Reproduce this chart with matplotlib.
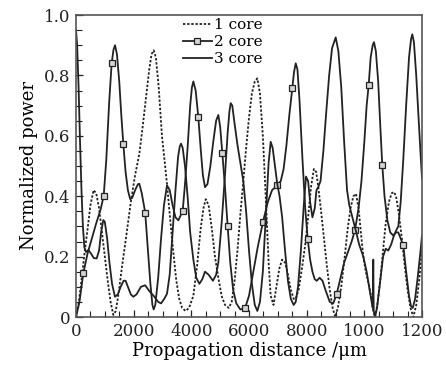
import matplotlib
matplotlib.use("Agg")
import matplotlib.pyplot as plt
from matplotlib.ticker import MultipleLocator, FixedLocator

# ---- data (approximate) ----
# 1 core (dashed)
x1 = [0, 100, 200, 300, 400, 500, 610, 700, 800, 900, 1000, 1100, 1200, 1295, 1380, 1480, 1600, 1757, 1900, 2050,
      2196, 2300, 2420, 2540, 2620, 2694, 2770, 2870, 2980, 3070, 3156, 3260, 3380, 3480, 3580, 3680, 3800, 3920,
      4070, 4200, 4320, 4420, 4500, 4600, 4700, 4820, 4936, 5050, 5167, 5300, 5400, 5500, 5600, 5700, 5803, 5900,
      6000, 6100, 6200, 6290, 6380, 6480, 6580, 6680, 6752, 6850, 6950, 7050, 7150, 7250, 7350, 7450, 7550, 7620,
      7720, 7850, 7950, 8050, 8150, 8250, 8330, 8404, 8500, 8600, 8700, 8800, 8900, 8990, 9080, 9200, 9320, 9420,
      9520, 9620, 9711, 9800, 9880, 9965, 10050, 10150, 10250, 10310, 10370, 10450, 10550, 10650, 10741, 10850,
      10950, 11028, 11100, 11200, 11300, 11400, 11500, 11600, 11700, 11800, 11900, 12000]
y1 = [0.0, 0.05, 0.13, 0.215, 0.29, 0.37, 0.42, 0.41, 0.36, 0.28, 0.20, 0.12, 0.05, 0.007, 0.02, 0.08, 0.17, 0.278, 0.38, 0.47,
      0.54, 0.62, 0.72, 0.82, 0.87, 0.883, 0.86, 0.76, 0.60, 0.52, 0.44, 0.33, 0.21, 0.12, 0.06, 0.03, 0.02, 0.03,
      0.07, 0.17, 0.29, 0.36, 0.39, 0.37, 0.30, 0.20, 0.13, 0.07, 0.04, 0.03, 0.05, 0.12, 0.22, 0.34, 0.45, 0.56,
      0.66, 0.74, 0.78, 0.79, 0.74, 0.60, 0.40, 0.18, 0.07, 0.04, 0.10, 0.16, 0.19, 0.18, 0.14, 0.09, 0.06, 0.06,
      0.09, 0.17, 0.24, 0.33, 0.43, 0.49, 0.48, 0.43, 0.35, 0.26, 0.17, 0.09, 0.03, 0.0, 0.03, 0.10, 0.20, 0.29,
      0.36, 0.40, 0.408, 0.36, 0.28, 0.20, 0.15, 0.11, 0.06, 0.02, 0.0, 0.04, 0.12, 0.22, 0.31, 0.38,
      0.41, 0.414, 0.40, 0.34, 0.26, 0.17, 0.09, 0.03, 0.0, 0.04, 0.12, 0.22]

# 2 core (solid with square markers)
x2 = [0, 120, 254, 400, 550, 700, 850, 960, 1050, 1150, 1237, 1300, 1353, 1420, 1500, 1570, 1641, 1720, 1800, 1880,
      1950, 2050, 2150, 2196, 2280, 2400, 2480, 2580, 2650, 2694, 2750, 2850, 2950, 3050, 3156, 3250, 3350, 3450,
      3550, 3700, 3780, 3870, 3960, 4020, 4070, 4150, 4242, 4330, 4400, 4474, 4560, 4660, 4760, 4860, 4936, 5000,
      5075, 5167, 5260, 5350, 5450, 5560, 5700, 5861, 6000, 6150, 6300, 6485, 6650, 6800, 6981, 7100, 7200, 7300,
      7400, 7502, 7560, 7620, 7680, 7750, 7850, 7950, 8036, 8120, 8200, 8280, 8350, 8450, 8550, 8650, 8800, 8920,
      9041, 9150, 9300, 9450, 9560, 9676, 9800, 9900, 10000, 10080, 10150, 10220, 10290, 10335, 10400, 10480, 10560,
      10623, 10700, 10800, 10900, 11000, 11100, 11178, 11260, 11351, 11450, 11550, 11620, 11680, 11760, 11850,
      11950, 12000]
y2 = [0.0, 0.05, 0.145, 0.21, 0.26, 0.31, 0.355, 0.40, 0.52, 0.71, 0.84, 0.885, 0.90, 0.87, 0.78, 0.67, 0.573, 0.48, 0.42, 0.39,
      0.395, 0.42, 0.44, 0.441, 0.41, 0.346, 0.24, 0.11, 0.04, 0.025, 0.04, 0.13, 0.26, 0.37, 0.436, 0.42, 0.37, 0.33,
      0.32, 0.351, 0.44, 0.56, 0.70, 0.76, 0.78, 0.75, 0.662, 0.55, 0.47, 0.43, 0.44, 0.50, 0.58, 0.65, 0.669, 0.63,
      0.542, 0.43, 0.30, 0.18, 0.09, 0.045, 0.025, 0.029, 0.07, 0.15, 0.23, 0.315, 0.38, 0.42, 0.436, 0.45, 0.49, 0.57,
      0.67, 0.758, 0.81, 0.84, 0.82, 0.72, 0.53, 0.36, 0.259, 0.19, 0.15, 0.125, 0.12, 0.13, 0.12, 0.09, 0.05, 0.045,
      0.076, 0.12, 0.18, 0.22, 0.25, 0.288, 0.36, 0.45, 0.58, 0.70, 0.767, 0.86, 0.90, 0.91, 0.88, 0.78, 0.62,
      0.502, 0.40, 0.32, 0.28, 0.27, 0.28, 0.28, 0.26, 0.237, 0.15, 0.07, 0.035, 0.03, 0.06, 0.13,
      0.22, 0.27]
mark_x2 = [254, 960, 1237, 1641, 2400, 3700, 4242, 5075, 5260, 5861, 6485, 6981, 7502, 8036, 9041, 9676, 10150,
           10623, 11351]

# 3 core (solid)
x3 = [0, 40, 90, 140, 190, 240, 290, 350, 430, 520, 620, 717, 800, 870, 947, 1000, 1080, 1160, 1250, 1352, 1450,
      1550, 1650, 1720, 1820, 1900, 1988, 2100, 2250, 2400, 2550, 2694, 2850, 2950, 3060, 3156, 3250, 3350, 3450,
      3540, 3600, 3642, 3700, 3780, 3870, 3960, 4070, 4170, 4280, 4380, 4474, 4600, 4750, 4860, 4936, 5050, 5167,
      5260, 5320, 5365, 5420, 5500, 5600, 5700, 5803, 5900, 6000, 6100, 6200, 6290, 6380, 6480, 6580, 6680, 6752,
      6820, 6900, 6981, 7060, 7150, 7250, 7350, 7450, 7550, 7620, 7700, 7800, 7900, 7977, 8050, 8120, 8200, 8280,
      8340, 8404, 8480, 8580, 8680, 8780, 8880, 9007, 9100, 9200, 9300, 9400, 9479, 9560, 9640, 9720, 9820, 9965,
      10080, 10200, 10290, 10310, 10325, 10370, 10440, 10550, 10650, 10741, 10830, 10930, 11028, 11120, 11178, 11260,
      11350, 11450, 11550, 11620, 11664, 11720, 11800, 11880, 11950, 12000]
y3 = [0.95, 0.90, 0.76, 0.58, 0.42, 0.30, 0.23, 0.215, 0.222, 0.21, 0.195, 0.194, 0.22, 0.28, 0.321, 0.315, 0.26, 0.18, 0.11, 0.067, 0.075,
      0.10, 0.12, 0.12, 0.095, 0.075, 0.067, 0.075, 0.10, 0.105, 0.085, 0.07, 0.05, 0.045, 0.06, 0.077, 0.14, 0.28, 0.42,
      0.53, 0.565, 0.574, 0.56, 0.50, 0.40, 0.28, 0.19, 0.13, 0.11, 0.125, 0.15, 0.14, 0.12, 0.14, 0.18, 0.31, 0.47,
      0.61, 0.68, 0.708, 0.70, 0.64, 0.57, 0.51, 0.45, 0.35, 0.22, 0.11, 0.04, 0.02, 0.05, 0.15, 0.33, 0.51, 0.58,
      0.56, 0.50, 0.44, 0.40, 0.33, 0.22, 0.12, 0.06, 0.04, 0.05, 0.10, 0.22, 0.37, 0.465, 0.45, 0.38, 0.33, 0.36,
      0.42, 0.431, 0.45, 0.55, 0.68, 0.80, 0.89, 0.926, 0.88, 0.76, 0.58, 0.42, 0.37, 0.34, 0.31, 0.28, 0.24, 0.20,
      0.15, 0.08, 0.03, 0.19, 0.02, 0.0, 0.03, 0.12, 0.20, 0.226, 0.22, 0.24, 0.27, 0.29, 0.30, 0.38,
      0.52, 0.70, 0.86, 0.92, 0.936, 0.91, 0.80, 0.66, 0.54, 0.46]

xticks = [0, 2000, 4000, 6000, 8000, 10000, 12000]
xticklabels = ["0", "2000", "4000", "6000", "8000", "1000", "1200"]
yticks = [0, 0.2, 0.4, 0.6, 0.8, 1.0]
yticklabels = ["0", "0.2", "0.4", "0.6", "0.8", "1.0"]
labels = ["1 core", "2 core", "3 core"]

plt.rcParams['font.family'] = ['DejaVu Serif']

fig = plt.figure(figsize=(4.46, 3.72), dpi=100)
ax = fig.add_axes([76/446, 55/372, 346/446, 302/372])

col = '#222222'
ax.plot(x1, y1, color=col, lw=1.3, ls=(0, (1.3, 1.0)), label=labels[0])
mask = [xx in mark_x2 for xx in x2]
ax.plot(x2, y2, color=col, lw=1.3, marker='s', ms=5.0, mfc='#d4d4d4', mec=col, mew=0.9,
        markevery=mask, label=labels[1])
ax.plot(x3, y3, color=col, lw=1.3, label=labels[2])

ax.set_xlim(0, 12000)
ax.set_ylim(0, 1.0)
ax.xaxis.set_major_locator(FixedLocator(xticks))
ax.set_xticklabels(xticklabels)
ax.xaxis.set_minor_locator(MultipleLocator(500))
ax.yaxis.set_major_locator(FixedLocator(yticks))
ax.set_yticklabels(yticklabels)
ax.yaxis.set_minor_locator(MultipleLocator(0.05))
ax.tick_params(which='both', direction='in', top=False, right=False, labelsize=12, colors='#222222')
ax.tick_params(which='major', length=5, width=0.9, pad=4)
ax.tick_params(which='minor', length=4, width=0.8)
for s in ax.spines.values():
    s.set_color('#555555')
    s.set_linewidth(1.2)

ax.set_xlabel('Propagation distance /μm', fontsize=13, labelpad=2)
ax.set_ylabel('Normalized power', fontsize=13, labelpad=4)

leg = ax.legend(loc='upper left', bbox_to_anchor=(0.30, 1.0), frameon=False, fontsize=11,
                handlelength=1.9, handletextpad=0.15, labelspacing=0.2, borderaxespad=0.0, borderpad=0.2)

fig.savefig('out.png', dpi=100)
